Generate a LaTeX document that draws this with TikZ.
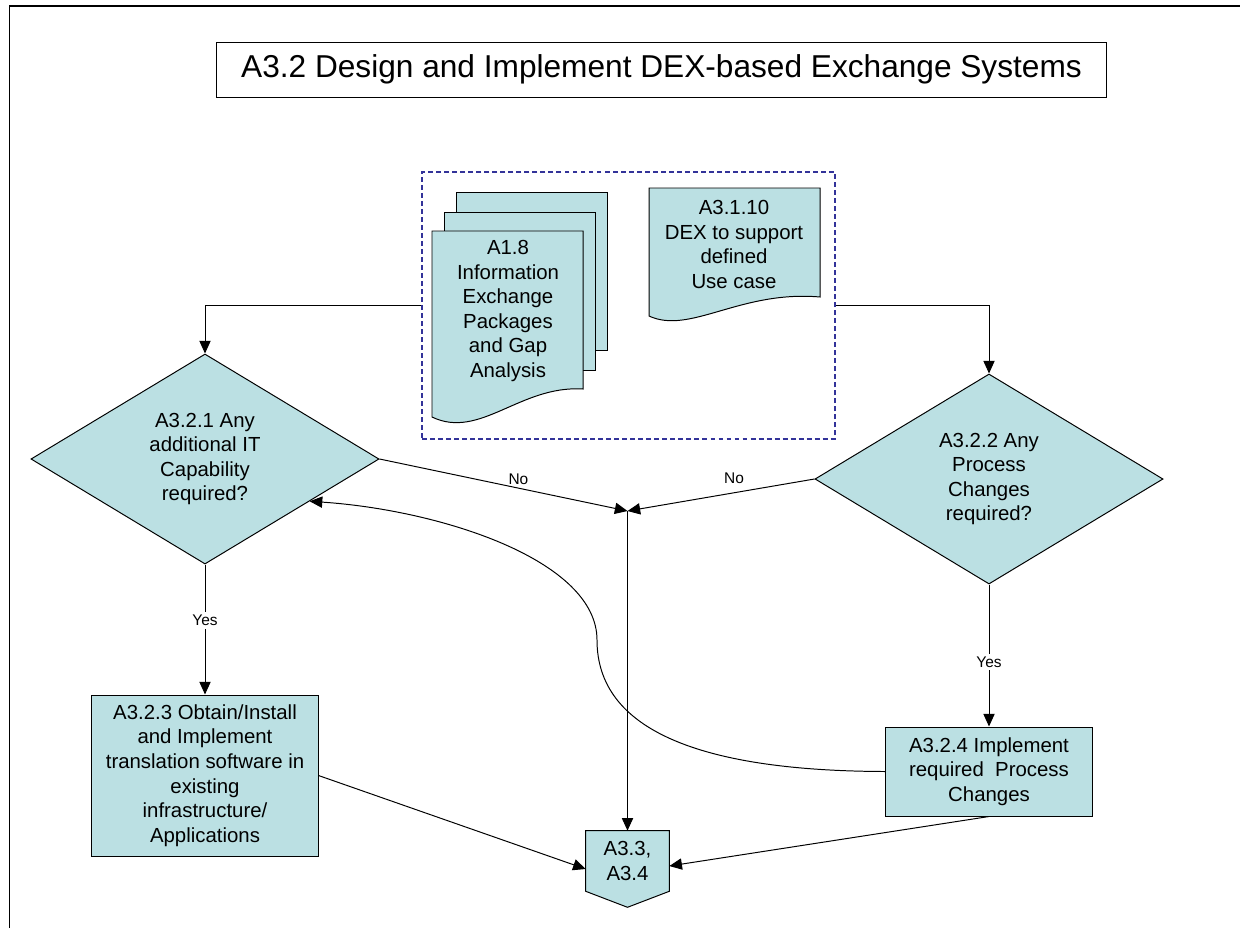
\documentclass[tikz,border=0pt]{standalone}
\usepackage{amsmath}
\usepackage{fontspec}
\setmainfont{Liberation Sans}
\usetikzlibrary{shapes.geometric,arrows.meta,calc,positioning}
\definecolor{boxfill}{RGB}{187,224,227}
\definecolor{grpblue}{RGB}{51,51,153}
\tikzset{
  txt/.style={align=center, inner sep=0pt, font=\fontsize{14.5}{17.5}\selectfont},
  flow/.style={txt, draw, fill=boxfill, line width=0.7pt},
  decision/.style={flow, diamond, aspect=1.66, minimum width=8.7cm, minimum height=5.25cm},
  paper/.style={draw, fill=boxfill, line width=0.7pt},
  lbl/.style={font=\fontsize{11}{13}\selectfont, inner sep=2pt},
  link/.style={-{Triangle[length=9pt,width=8pt]}, line width=0.7pt}
}

\begin{document}
\begin{tikzpicture}[x=0.025cm,y=-0.025cm]
\useasboundingbox (0,0) rectangle (1240,928);
\draw[line width=1.2pt] (9.5,928) -- (9.5,6) -- (1240,6);
\node[draw, line width=0.7pt, minimum width=22.225cm, minimum height=1.375cm,
  font=\fontsize{22.5}{27}\selectfont] (title) at (661.5,69.5)
  {A3.2 Design and Implement DEX-based Exchange Systems};
\node[draw=grpblue, dash pattern=on 3.5pt off 2.2pt, line width=1pt,
  minimum width=10.325cm, minimum height=6.675cm] (grp) at (628.5,305.5) {};
\filldraw[paper] (456,192) -- (607,192) -- (607,350) -- (456,350) -- cycle;
\filldraw[paper] (444,212) -- (595,212) -- (595,370) -- (444,370) -- cycle;
\filldraw[paper] (432,231) -- (583,231) -- (583,389)
  .. controls (520,385) and (480,440) .. (432,417) -- cycle;
\node[txt] (pkg) at (508,311)
  {A1.8\\Information\\Exchange\\Packages\\and Gap\\Analysis};
\filldraw[paper] (649,188) -- (820,188) -- (820,297)
  .. controls (740,290) and (690,335) .. (649,316) -- cycle;
\node[txt] (uc) at (734,244.5) {A3.1.10\\DEX to support\\defined\\Use case};
\node[decision] (q1) at (205,459) {A3.2.1 Any\\additional IT\\Capability\\required?};
\node[decision] (q2) at (989,479) {A3.2.2 Any\\Process\\Changes\\required?};
\node[flow, minimum width=5.65cm, minimum height=4.025cm] (act3) at (205,775.5)
  {A3.2.3 Obtain/Install\\and Implement\\translation software in\\existing\\infrastructure/\\Applications};
\node[flow, minimum width=5.15cm, minimum height=2.225cm] (act4) at (989,771.5)
  {A3.2.4 Implement\\required~ Process\\Changes};
\node[minimum width=2.075cm, minimum height=1.5cm, inner sep=0pt] (nxt) at (627.5,861) {};
\filldraw[paper] (nxt.north west) -- (nxt.north east) -- (nxt.south east)
  -- ($(nxt.south)+(0,16)$) -- (nxt.south west) -- cycle;
\node[txt] at (nxt) {A3.3,\\A3.4};
\coordinate (jn) at (627.5,511);
\draw[link] (grp.west) -| (q1.north);
\draw[link] (grp.east) -| (q2.north);
\draw[link] (q1.east) -- node[lbl, pos=0.56, above] {No} (jn);
\draw[link] (q2.west) -- node[lbl, pos=0.43, above=4pt] {No} (jn);
\draw[link] (jn) -- (nxt.north);
\draw[link] (q1.south) -- node[lbl, pos=0.43, fill=white] {Yes} (act3.north);
\draw[link] (q2.south) -- node[lbl, pos=0.545, fill=white] {Yes} (act4.north);
\draw[link] (act3.east) -- ($(nxt.west)+(0,8)$);
\draw[link] (act4.south) -- ($(nxt.east)+(0,5)$);
\draw[link] (act4.west) .. controls (700,771) and (597,730) .. (597,640)
  .. controls (597,560) and (440,510) .. (q1.-22);
\end{tikzpicture}
\end{document}
